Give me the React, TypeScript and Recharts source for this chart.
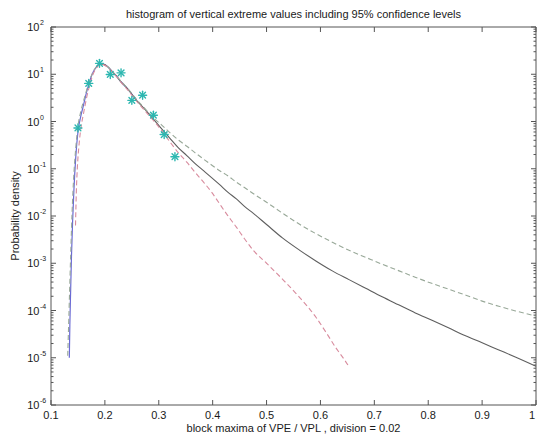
import React from 'react';
import { ComposedChart, Line, Scatter, XAxis, YAxis, ReferenceArea } from 'recharts';

// Histogram of block maxima (bin width 0.02)
const BIN_CENTERS = [0.15, 0.17, 0.19, 0.21, 0.23, 0.25, 0.27, 0.29, 0.31, 0.33];
const HIST_DENSITY = [0.73, 6.4, 17, 9.9, 10.7, 2.8, 3.6, 1.36, 0.53, 0.18];

// Fitted extreme value density
const FIT_X = [
  0.134, 0.135, 0.1365, 0.138, 0.14, 0.1425, 0.146, 0.15, 0.155, 0.16, 0.166, 0.172, 0.178,
  0.185, 0.191, 0.198, 0.205, 0.212, 0.22, 0.23, 0.243, 0.258, 0.274, 0.29, 0.305, 0.32,
  0.336, 0.352, 0.367, 0.383, 0.398, 0.413, 0.428, 0.444, 0.459, 0.475, 0.5, 0.53, 0.561,
  0.5915, 0.622, 0.653, 0.684, 0.7145, 0.745, 0.776, 0.807, 0.8375, 0.868, 0.899, 0.93, 0.9605, 1.0,
];
const FIT_Y = [
  1.0e-5, 5.0e-5, 2.8e-4, 1.4e-3, 7.1e-3, 3.5e-2, 0.18, 0.6, 1.26, 2.14, 4.17, 7.24, 11.0,
  14.5, 16.6, 16.2, 14.5, 12.0, 9.55, 6.92, 4.79, 2.88, 1.82, 1.12, 0.71, 0.45,
  0.28, 0.19, 0.13, 0.091, 0.065, 0.046, 0.032, 0.023, 0.016, 0.0115, 6.6e-3, 3.4e-3, 1.9e-3,
  1.12e-3, 6.9e-4, 4.5e-4, 2.95e-4, 1.95e-4, 1.32e-4, 8.9e-5, 6.2e-5, 4.3e-5, 2.95e-5, 2.1e-5, 1.48e-5, 1.05e-5, 6.6e-6,
];

// Upper 95% confidence level
const UPPER_X = [
  0.131, 0.133, 0.135, 0.137, 0.139, 0.142, 0.146, 0.15, 0.155, 0.16, 0.166, 0.172, 0.178,
  0.185, 0.191, 0.198, 0.205, 0.212, 0.22, 0.23, 0.243, 0.258, 0.274, 0.29, 0.305, 0.32,
  0.336, 0.352, 0.367, 0.383, 0.398, 0.413, 0.428, 0.444, 0.459, 0.475, 0.5, 0.532, 0.562,
  0.592, 0.623, 0.654, 0.685, 0.715, 0.746, 0.777, 0.808, 0.839, 0.87, 0.9, 0.931, 0.962, 1.0,
];
const UPPER_Y = [
  1.1e-5, 6.3e-5, 4.0e-4, 2.2e-3, 1.1e-2, 6.3e-2, 0.28, 0.79, 1.58, 2.63, 4.57, 7.6, 11.2,
  14.8, 16.6, 16.2, 14.5, 12.0, 9.55, 7.08, 4.9, 3.0, 1.9, 1.2, 0.85, 0.59,
  0.41, 0.3, 0.22, 0.16, 0.12, 0.091, 0.071, 0.052, 0.04, 0.03, 0.0195, 0.011, 6.6e-3,
  4.2e-3, 2.75e-3, 1.86e-3, 1.32e-3, 9.5e-4, 6.9e-4, 5.0e-4, 3.7e-4, 2.8e-4, 2.1e-4, 1.58e-4, 1.23e-4, 9.8e-5, 7.6e-5,
];

// Lower 95% confidence level
const LOWER_X = [
  0.1455, 0.147, 0.149, 0.152, 0.156, 0.16, 0.166, 0.172, 0.178, 0.185, 0.191, 0.198, 0.205,
  0.212, 0.22, 0.23, 0.243, 0.258, 0.274, 0.29, 0.305, 0.32, 0.336, 0.352, 0.367, 0.383,
  0.398, 0.413, 0.428, 0.444, 0.459, 0.475, 0.5, 0.532, 0.562, 0.592, 0.61, 0.629, 0.645, 0.654,
];
const LOWER_Y = [
  6.3e-3, 3.2e-2, 0.11, 0.32, 0.79, 1.41, 3.16, 6.0, 10, 13.8, 16.2, 15.8, 14.1,
  11.7, 9.3, 6.76, 4.57, 2.75, 1.7, 1.05, 0.65, 0.38, 0.22, 0.138, 0.085, 0.052,
  0.032, 0.018, 0.0102, 5.8e-3, 3.3e-3, 1.9e-3, 1.0e-3, 4.3e-4, 1.86e-4, 7.1e-5, 3.5e-5, 1.6e-5, 8.9e-6, 6.2e-6,
];

const X_TICKS = [0.1, 0.2, 0.3, 0.4, 0.5, 0.6, 0.7, 0.8, 0.9, 1];
const Y_DECADES = [-6, -5, -4, -3, -2, -1, 0, 1, 2];

const TITLE = 'histogram of vertical extreme values including 95% confidence levels';
const X_LABEL = 'block maxima of VPE / VPL , division = 0.02';
const Y_LABEL = 'Probability density';

const pairs = (xs: number[], ys: number[]) => xs.map((x, i) => ({ x, y: ys[i] }));
const histPoints = pairs(BIN_CENTERS, HIST_DENSITY);
const fitPoints = pairs(FIT_X, FIT_Y);
const fitRise = fitPoints.filter((p) => p.x <= 0.26);
const fitTail = fitPoints.filter((p) => p.x >= 0.185);
const upperPoints = pairs(UPPER_X, UPPER_Y);
const lowerPoints = pairs(LOWER_X, LOWER_Y);

// major decades plus the 2..9 minor ticks of a log axis
const Y_TICKS: number[] = [];
Y_DECADES.forEach((e, i) => {
  const base = Math.pow(10, e);
  Y_TICKS.push(base);
  if (i < Y_DECADES.length - 1) {
    for (let m = 2; m <= 9; m++) Y_TICKS.push(m * base);
  }
});

const W = 537;
const H = 437;
const PLOT = { left: 51, right: 536, top: 27, bottom: 405 };
const AXIS = '#555';
const TEXT = '#1a1a1a';
const FONT = '"Liberation Sans", Arial, Helvetica, sans-serif';

const XTick = (props: any) => {
  const { x, payload } = props;
  // keep the last label inside the canvas
  const lx = Math.min(x, W - 5);
  return (
    <g>
      <line x1={x} x2={x} y1={PLOT.bottom} y2={PLOT.bottom - 5} stroke={AXIS} strokeWidth={1} />
      <line x1={x} x2={x} y1={PLOT.top} y2={PLOT.top + 5} stroke={AXIS} strokeWidth={1} />
      <text x={lx} y={419} textAnchor="middle" fontSize={11} fill={TEXT} fontFamily={FONT}>
        {String(payload.value)}
      </text>
    </g>
  );
};

const YTick = (props: any) => {
  const { y, payload } = props;
  const p = Math.log10(payload.value);
  const major = Math.abs(p - Math.round(p)) < 1e-9;
  const len = major ? 5 : 2.5;
  return (
    <g>
      <line x1={PLOT.left} x2={PLOT.left + len} y1={y} y2={y} stroke={AXIS} strokeWidth={1} />
      <line x1={PLOT.right - len} x2={PLOT.right} y1={y} y2={y} stroke={AXIS} strokeWidth={1} />
      {major && (
        <text x={39.5} y={y + 4} textAnchor="end" fontSize={11} fill={TEXT} fontFamily={FONT}>
          10
        </text>
      )}
      {major && (
        <text x={40} y={y - 2} textAnchor="start" fontSize={7} fill={TEXT} fontFamily={FONT}>
          {String(Math.round(p))}
        </text>
      )}
    </g>
  );
};

const Asterisk = (props: any) => {
  const { cx, cy } = props;
  if (cx == null || cy == null) return null;
  const r = 4;
  const d = r * 0.72;
  const c = '#2db7b0';
  return (
    <g stroke={c} strokeWidth={1.4} strokeLinecap="round">
      <line x1={cx - r} x2={cx + r} y1={cy} y2={cy} />
      <line x1={cx} x2={cx} y1={cy - r} y2={cy + r} />
      <line x1={cx - d} x2={cx + d} y1={cy - d} y2={cy + d} />
      <line x1={cx - d} x2={cx + d} y1={cy + d} y2={cy - d} />
    </g>
  );
};

export default function App() {
  return (
    <div style={{ position: 'absolute', left: 0, top: 0, width: W, height: H, background: '#fff' }}>
      <ComposedChart
        width={W}
        height={H}
        margin={{ top: PLOT.top, right: W - PLOT.right, bottom: 2, left: PLOT.left - 40 }}
      >
        <XAxis
          dataKey="x"
          type="number"
          domain={[0.1, 1]}
          ticks={X_TICKS}
          interval={0}
          allowDataOverflow
          height={30}
          axisLine={false}
          tickLine={false}
          tick={<XTick />}
        />
        <YAxis
          dataKey="y"
          type="number"
          scale="log"
          domain={[1e-6, 100]}
          ticks={Y_TICKS}
          interval={0}
          allowDataOverflow
          width={40}
          axisLine={false}
          tickLine={false}
          tick={<YTick />}
        />
        <ReferenceArea
          x1={0.1}
          x2={1}
          y1={1e-6}
          y2={100}
          fill="none"
          fillOpacity={0}
          stroke={AXIS}
          strokeWidth={1}
          ifOverflow="visible"
        />
        <Line data={fitRise} dataKey="y" type="monotone" stroke="#6a6ad4" strokeWidth={1.2} dot={false} isAnimationActive={false} />
        <Line data={fitTail} dataKey="y" type="monotone" stroke="#5e5e5e" strokeWidth={1.1} dot={false} isAnimationActive={false} />
        <Line data={upperPoints} dataKey="y" type="monotone" stroke="#98a898" strokeWidth={1.1} strokeDasharray="5 3" dot={false} isAnimationActive={false} />
        <Line data={lowerPoints} dataKey="y" type="monotone" stroke="#d88c9e" strokeWidth={1.1} strokeDasharray="5 3" dot={false} isAnimationActive={false} />
        <Scatter data={histPoints} dataKey="y" shape={<Asterisk />} isAnimationActive={false} />
        <text x={(PLOT.left + PLOT.right) / 2} y={18} textAnchor="middle" fontSize={11} fill={TEXT} fontFamily={FONT}>
          {TITLE}
        </text>
        <text x={(PLOT.left + PLOT.right) / 2} y={432} textAnchor="middle" fontSize={11} fill={TEXT} fontFamily={FONT}>
          {X_LABEL}
        </text>
        <text
          x={16}
          y={(PLOT.top + PLOT.bottom) / 2}
          textAnchor="middle"
          fontSize={11}
          fill={TEXT}
          fontFamily={FONT}
          transform={`rotate(-90 16 ${(PLOT.top + PLOT.bottom) / 2})`}
          dominantBaseline="middle"
        >
          {Y_LABEL}
        </text>
      </ComposedChart>
    </div>
  );
}
